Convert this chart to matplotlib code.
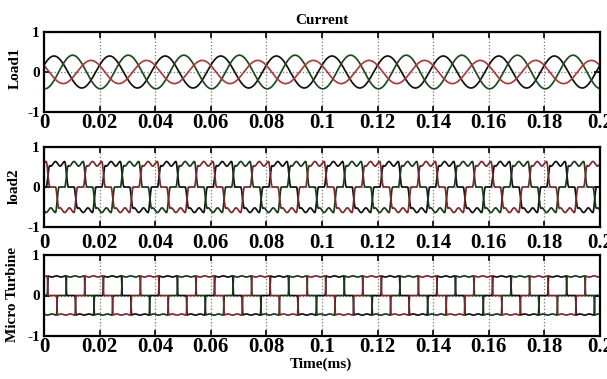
import numpy as np
import matplotlib
matplotlib.use("Agg")
import matplotlib.pyplot as plt

plt.rcParams['font.family'] = ['Liberation Serif', 'DejaVu Serif']
plt.rcParams['font.weight'] = 'bold'
plt.rcParams['axes.unicode_minus'] = False

# ---------------- data ----------------
freq_hz = 50.0
t_end = 0.2
x_ticks = [0, 0.02, 0.04, 0.06, 0.08, 0.1, 0.12, 0.14, 0.16, 0.18, 0.2]
x_tick_labels = ['0', '0.02', '0.04', '0.06', '0.08', '0.1', '0.12', '0.14', '0.16', '0.18', '0.2']
y_ticks = [-1, 0, 1]
y_tick_labels = ['-1', '0', '1']
panel_names = ['Load1', 'load2', 'Micro Turbine']
phase_colors = ['#111111', '#1e4a1e', '#a83c3c']          # black, green, red (Load1)
phase_colors_dark = ['#111111', '#1a3a1a', '#7a2a2a']     # same phases, as seen in load2 / turbine

# Load1: sinusoidal phase currents
load1_amp = [0.40, 0.42, 0.29]
load1_peak_t = [0.0036, 0.0103, 0.0169]

# load2 / micro turbine: 120-degree conduction currents
load2_level = 0.58
load2_ripple = 0.10
load2_overlap_deg = 24.0
load2_start_deg = 14.0

mt_level = 0.47
mt_ripple = 0.03
mt_overlap_deg = 6.0
mt_start_deg = 21.0

phase_shift_deg = [0.0, 120.0, 240.0]

# ---------------- build curves ----------------
t = np.linspace(0, t_end, 6000)
theta = 360.0 * freq_hz * t


def edge(x, mu):
    x = np.clip(x / mu, 0, 1)
    return 0.5 * (1 - np.cos(np.pi * x))


def six_pulse(th, level, ripple, mu, start):
    ph = np.mod(th - start, 360.0)
    pos = edge(ph, mu) - edge(ph - 120.0, mu)
    neg = edge(ph - 180.0, mu) - edge(ph - 300.0, mu)
    rip = 1 + ripple * np.cos(np.deg2rad(6 * (th - start)))
    return level * (pos - neg) * rip


load1 = [a * np.cos(2 * np.pi * freq_hz * (t - pk)) for a, pk in zip(load1_amp, load1_peak_t)]
load2 = [six_pulse(theta, load2_level, load2_ripple, load2_overlap_deg, load2_start_deg + s)
         for s in phase_shift_deg]
mt = [six_pulse(theta, mt_level, mt_ripple, mt_overlap_deg, mt_start_deg + s)
      for s in phase_shift_deg]
panels = [load1, load2, mt]
panel_colors = [phase_colors, phase_colors_dark, phase_colors_dark]

# ---------------- figure ----------------
W, H = 607, 379
fig = plt.figure(figsize=(W / 100, H / 100), dpi=100)

boxes = [(44, 32, 600, 112), (44, 147, 600, 227), (44, 255, 600, 336)]
label_pos = [(15, 68), (14, 186), (13, 295)]
xpad = [1.0, 4.0, 1.0]

axes = []
for i, (x0, y0, x1, y1) in enumerate(boxes):
    ax = fig.add_axes([x0 / W, 1 - y1 / H, (x1 - x0) / W, (y1 - y0) / H])
    for k, curve in enumerate(panels[i]):
        ax.plot(t, curve, color=panel_colors[i][k], lw=1.25)
    ax.set_xlim(0, t_end)
    ax.set_ylim(-1, 1)
    ax.set_xticks(x_ticks)
    ax.set_xticklabels(x_tick_labels, fontsize=15, fontweight='bold')
    ax.set_yticks(y_ticks)
    ax.set_yticklabels(y_tick_labels, fontsize=11, fontweight='bold')
    ax.tick_params(direction='in', length=4, width=1.2, top=True, right=True)
    ax.tick_params(axis='x', pad=xpad[i])
    ax.tick_params(axis='y', pad=3)
    ax.grid(True, color='#777777', linestyle=':', lw=0.9)
    for sp in ax.spines.values():
        sp.set_linewidth(1.6)
    fig.text(label_pos[i][0] / W, 1 - label_pos[i][1] / H, panel_names[i],
             rotation=90, ha='center', va='center', fontsize=11, fontweight='bold')
    axes.append(ax)

axes[0].set_title('Current', fontsize=11, fontweight='bold', pad=6)
fig.text(321 / W, 1 - 364 / H, 'Time(ms)', ha='center', va='center',
         fontsize=11, fontweight='bold')

fig.savefig('out.png', dpi=100)
